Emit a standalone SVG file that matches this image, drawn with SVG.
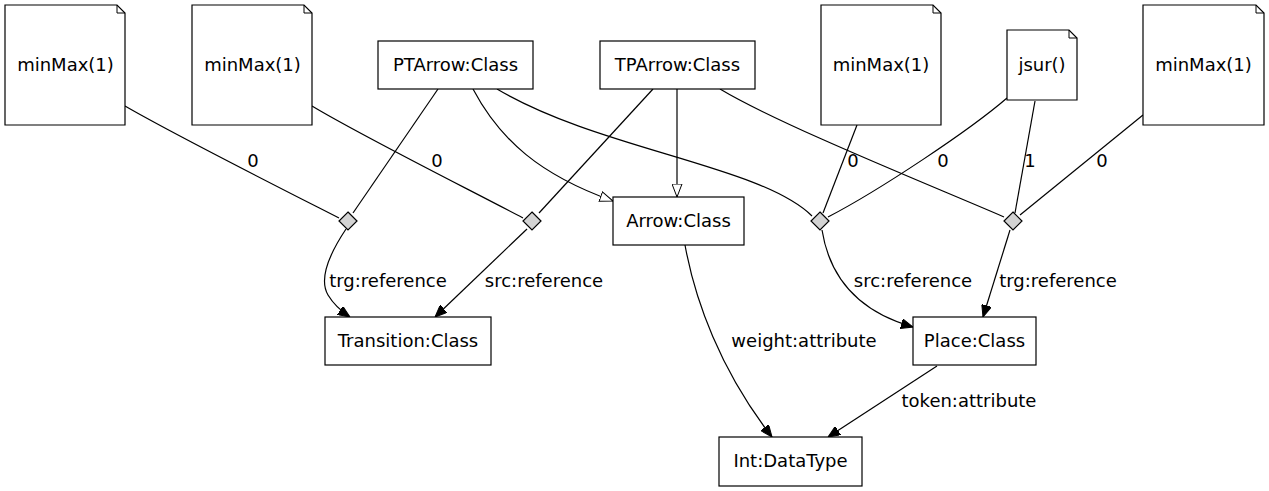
<svg xmlns="http://www.w3.org/2000/svg" width="1269" height="491" viewBox="0 0 1269 491">
<style>
  text { font-family: "DejaVu Sans", "Liberation Sans", sans-serif; font-size: 18px; fill: #000; }
  .n { text-anchor: middle; }
  .box { fill: #fff; stroke: #000; stroke-width: 1.2; }
  .fold { fill: none; stroke: #000; stroke-width: 1; }
  .dia { fill: #d3d3d3; stroke: #000; stroke-width: 1.2; }
  .e { fill: none; stroke: #000; stroke-width: 1.2; }
  .ea { marker-end: url(#filled); }
  .eh { marker-end: url(#hollow); }
</style>
<defs>
  <marker id="filled" viewBox="0 0 12 10" refX="12" refY="5" markerWidth="12" markerHeight="10" markerUnits="userSpaceOnUse" orient="auto">
    <path d="M0,0 L12,5 L0,10 Z" fill="#000" stroke="#000" stroke-width="1"/>
  </marker>
  <marker id="hollow" viewBox="0 0 14 11" refX="13.5" refY="5.5" markerWidth="14" markerHeight="11" markerUnits="userSpaceOnUse" orient="auto">
    <path d="M0.5,0.5 L13.5,5.5 L0.5,10.5 Z" fill="#fff" stroke="#000" stroke-width="1"/>
  </marker>
</defs>
<rect width="1269" height="491" fill="#fff"/>

<g id="connectors">
  <!-- minMax notes to diamonds -->
  <path class="e" d="M125,106 C175,135 290,193 339,218"/>
  <path class="e" d="M312,106 C360,135 470,190 523,218"/>
  <path class="e" d="M857,125 L823,213"/>
  <path class="e" d="M1143,115 L1020,215"/>
  <!-- jsur to diamonds -->
  <path class="e" d="M1007,98 C970,130 880,190 828,217"/>
  <path class="e" d="M1035,101 L1015,213"/>
  <!-- PTArrow -->
  <path class="e" d="M438,89 L353,213"/>
  <path class="e eh" d="M473,89 C500,140 540,175 613,201"/>
  <path class="e" d="M497,89 C600,150 760,165 812,216"/>
  <!-- TPArrow -->
  <path class="e" d="M653,89 L539,213"/>
  <path class="e eh" d="M677,89 L677,197"/>
  <path class="e" d="M720,89 C780,125 930,185 1004,217"/>
  <!-- diamonds to targets -->
  <path class="e ea" d="M346,229 C332,250 318,278 328,295 C334,305 341,311 350,317"/>
  <path class="e ea" d="M527,229 L435,317"/>
  <path class="e ea" d="M822,230 C830,280 860,312 913,327"/>
  <path class="e ea" d="M1010,230 L983,317"/>
  <!-- attributes -->
  <path class="e ea" d="M685,245 C695,300 720,370 772,437"/>
  <path class="e ea" d="M937,366 L828,437"/>
  <!-- labels -->
  <text class="n" x="253" y="167">0</text>
  <text class="n" x="437" y="167">0</text>
  <text class="n" x="853" y="167">0</text>
  <text class="n" x="943" y="167">0</text>
  <text class="n" x="1030" y="167">1</text>
  <text class="n" x="1102" y="167">0</text>
  <text class="n" x="388" y="287">trg:reference</text>
  <text class="n" x="544" y="287">src:reference</text>
  <text class="n" x="913" y="287">src:reference</text>
  <text class="n" x="1058" y="287">trg:reference</text>
  <text class="n" x="804" y="347">weight:attribute</text>
  <text class="n" x="969" y="407">token:attribute</text>
</g>

<g id="minMax1">
  <path class="box" d="M5,5 L117,5 L125,13 L125,125 L5,125 Z"/>
  <path class="fold" d="M117,5 L117,13 L125,13"/>
  <text class="n" x="65.5" y="71">minMax(1)</text>
</g>
<g id="minMax2">
  <path class="box" d="M192,5 L304,5 L312,13 L312,125 L192,125 Z"/>
  <path class="fold" d="M304,5 L304,13 L312,13"/>
  <text class="n" x="252.5" y="71">minMax(1)</text>
</g>
<g id="minMax3">
  <path class="box" d="M821,5 L933,5 L941,13 L941,125 L821,125 Z"/>
  <path class="fold" d="M933,5 L933,13 L941,13"/>
  <text class="n" x="881" y="71">minMax(1)</text>
</g>
<g id="jsur">
  <path class="box" d="M1007,30 L1069,30 L1077,38 L1077,100 L1007,100 Z"/>
  <path class="fold" d="M1069,30 L1069,38 L1077,38"/>
  <text class="n" x="1042" y="71">jsur()</text>
</g>
<g id="minMax4">
  <path class="box" d="M1143,5 L1256,5 L1264,13 L1264,125 L1143,125 Z"/>
  <path class="fold" d="M1256,5 L1256,13 L1264,13"/>
  <text class="n" x="1203.5" y="71">minMax(1)</text>
</g>
<g id="PTArrow">
  <rect class="box" x="378" y="41" width="155" height="48"/>
  <text class="n" x="455.5" y="71">PTArrow:Class</text>
</g>
<g id="TPArrow">
  <rect class="box" x="600" y="41" width="155" height="48"/>
  <text class="n" x="677.5" y="71">TPArrow:Class</text>
</g>
<g id="Arrow">
  <rect class="box" x="613" y="197" width="131" height="48"/>
  <text class="n" x="678.5" y="227">Arrow:Class</text>
</g>
<g id="Transition">
  <rect class="box" x="325" y="317" width="166" height="48"/>
  <text class="n" x="408" y="347">Transition:Class</text>
</g>
<g id="Place">
  <rect class="box" x="913" y="317" width="123" height="48"/>
  <text class="n" x="974.5" y="347">Place:Class</text>
</g>
<g id="Int">
  <rect class="box" x="719" y="437" width="143" height="49"/>
  <text class="n" x="790.5" y="467">Int:DataType</text>
</g>
<g id="d1"><polygon class="dia" points="348,212 357,221 348,230 339,221"/></g>
<g id="d2"><polygon class="dia" points="532,212 541,221 532,230 523,221"/></g>
<g id="d3"><polygon class="dia" points="820,212 829,221 820,230 811,221"/></g>
<g id="d4"><polygon class="dia" points="1013,212 1022,221 1013,230 1004,221"/></g>
</svg>
